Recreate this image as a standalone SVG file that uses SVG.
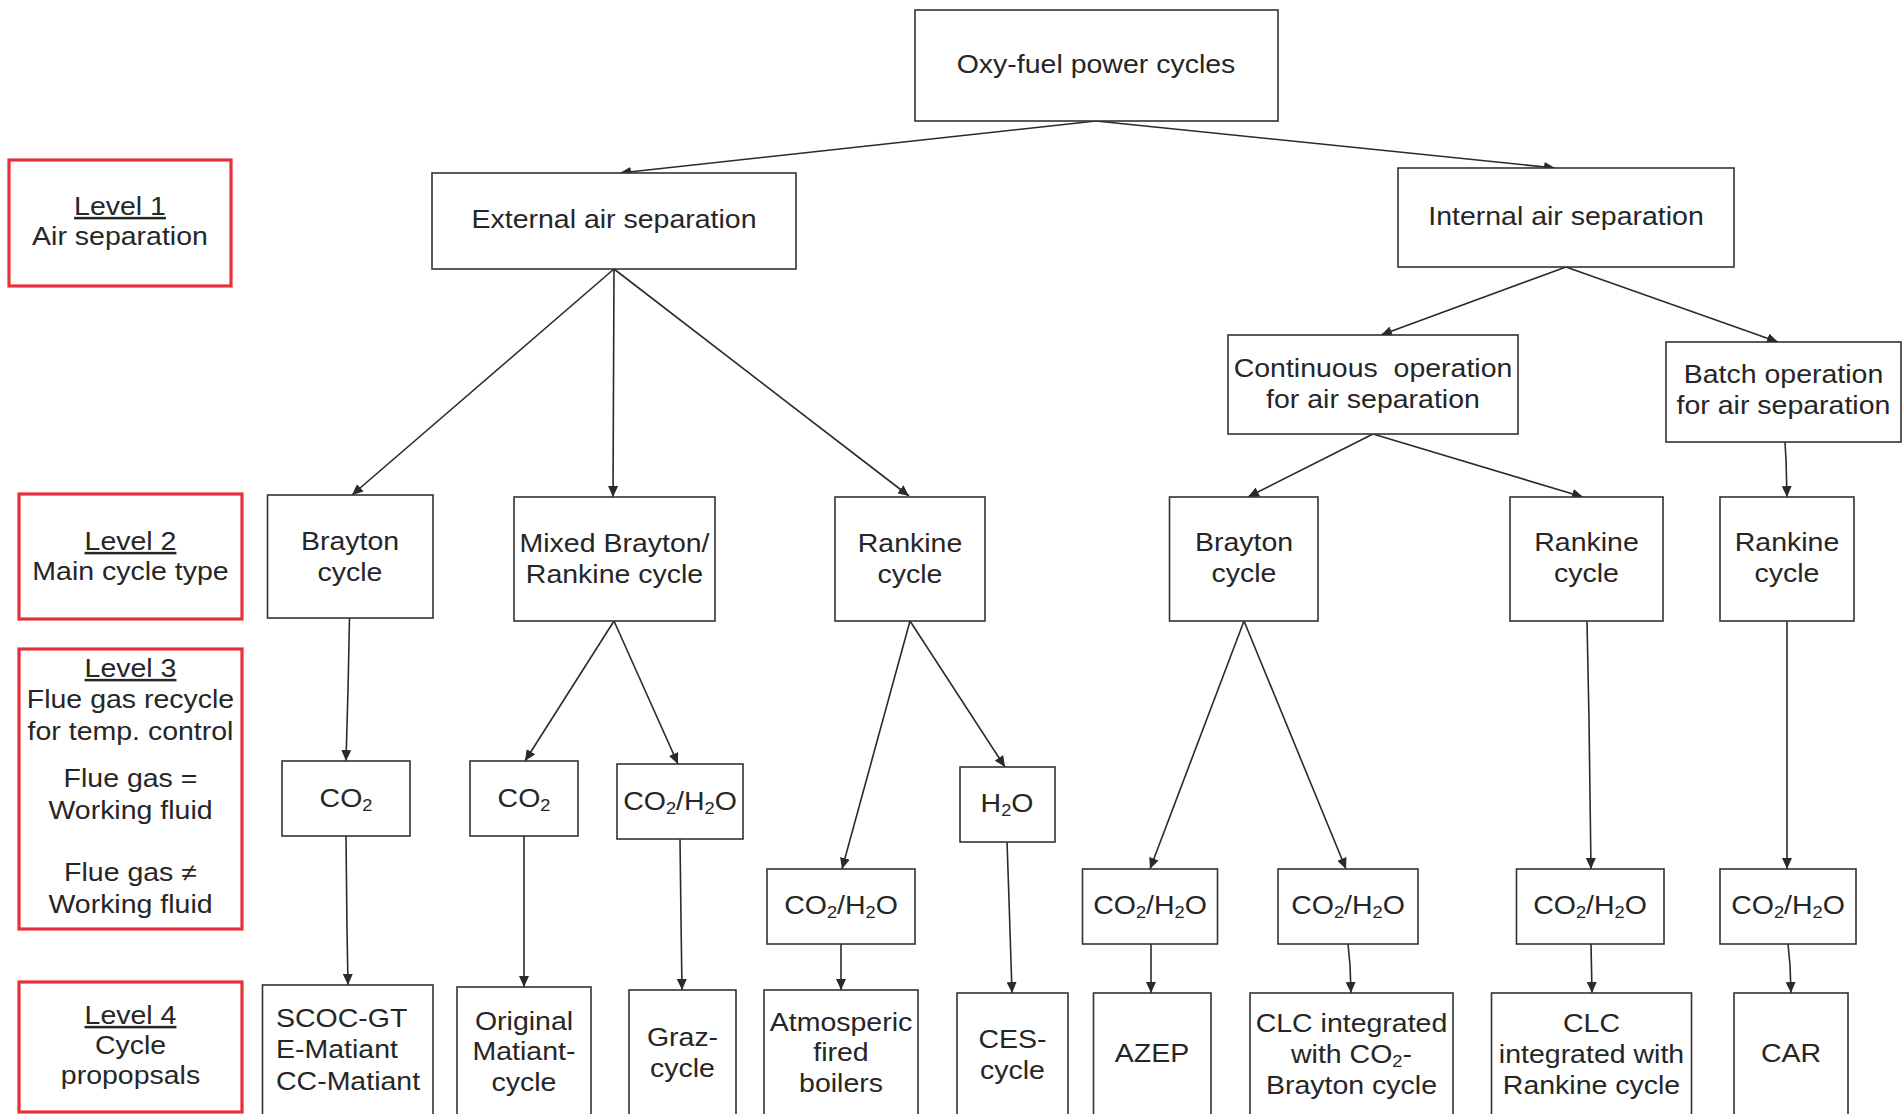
<svg xmlns="http://www.w3.org/2000/svg" width="1903" height="1114" viewBox="0 0 1903 1114">
<style>
.b{fill:#fff;stroke:#333;stroke-width:1.6}
.r{fill:#fff;stroke:#e8303a;stroke-width:3.2}
.t{font-family:"Liberation Sans",Arial,sans-serif;font-size:25px;fill:#262626;text-anchor:middle}
.l{text-anchor:start}
.u{text-decoration:underline}
.s{font-size:16px}
.c{fill:none;stroke:#2a2a2a;stroke-width:1.6;marker-end:url(#ah)}
</style>
<defs>
<marker id="ah" markerUnits="userSpaceOnUse" markerWidth="12" markerHeight="10" refX="11" refY="5" orient="auto">
<path d="M0,0 L11,5 L0,10 z" fill="#2a2a2a"/>
</marker>
</defs>
<rect width="1903" height="1114" fill="#fff"/>

<g id="connectors">
<line class="c" x1="1096" y1="121" x2="620" y2="173"/>
<line class="c" x1="1096" y1="121" x2="1555" y2="168"/>
<line class="c" x1="614" y1="269" x2="352" y2="495"/>
<line class="c" x1="614" y1="269" x2="613" y2="497"/>
<line class="c" x1="614" y1="269" x2="909" y2="496"/>
<line class="c" x1="1566" y1="267" x2="1381" y2="335"/>
<line class="c" x1="1566" y1="267" x2="1778" y2="342"/>
<line class="c" x1="1373" y1="434" x2="1248" y2="497"/>
<line class="c" x1="1373" y1="434" x2="1583" y2="497"/>
<polyline class="c" points="1785,442 1786,460 1787,497"/>
<polyline class="c" points="349.5,618 348,690 346,761"/>
<line class="c" x1="614" y1="621" x2="525" y2="761"/>
<line class="c" x1="614" y1="621" x2="678" y2="764"/>
<line class="c" x1="910" y1="621" x2="842" y2="869"/>
<line class="c" x1="910" y1="621" x2="1005" y2="767"/>
<line class="c" x1="1244" y1="621" x2="1150" y2="869"/>
<line class="c" x1="1244" y1="621" x2="1346" y2="869"/>
<polyline class="c" points="1587,621 1589,720 1591,869"/>
<line class="c" x1="1787" y1="621" x2="1787" y2="869"/>
<polyline class="c" points="346,836 347,930 348,985"/>
<line class="c" x1="524" y1="836" x2="524" y2="987"/>
<polyline class="c" points="680,839 681,920 682,990"/>
<line class="c" x1="841" y1="944" x2="841" y2="990"/>
<polyline class="c" points="1007,841 1009,900 1012,993"/>
<line class="c" x1="1151" y1="944" x2="1151" y2="993"/>
<polyline class="c" points="1348,944 1350,965 1351,993"/>
<line class="c" x1="1591" y1="944" x2="1592" y2="993"/>
<polyline class="c" points="1788,944 1790,965 1791,993"/>
</g>

<g id="level1">
<rect class="r" x="9" y="160" width="222" height="126"/>
<text class="t" transform="translate(120,215) scale(1.14,1)"><tspan class="u" x="0">Level 1</tspan><tspan x="0" dy="30">Air separation</tspan></text>
</g>
<g id="level2">
<rect class="r" x="19" y="494" width="223" height="125"/>
<text class="t" transform="translate(130.5,550) scale(1.14,1)"><tspan class="u" x="0">Level 2</tspan><tspan x="0" dy="30">Main cycle type</tspan></text>
</g>
<g id="level3">
<rect class="r" x="19" y="649" width="223" height="280"/>
<text class="t" transform="translate(130.5,677) scale(1.14,1)"><tspan class="u" x="0">Level 3</tspan><tspan x="0" dy="31.5">Flue gas recycle</tspan><tspan x="0" dy="32">for temp. control</tspan><tspan x="0" dy="47">Flue gas =</tspan><tspan x="0" dy="32">Working fluid</tspan><tspan x="0" dy="62">Flue gas ≠</tspan><tspan x="0" dy="31.5">Working fluid</tspan></text>
</g>
<g id="level4">
<rect class="r" x="19" y="982" width="223" height="130"/>
<text class="t" transform="translate(130.5,1024) scale(1.14,1)"><tspan class="u" x="0">Level 4</tspan><tspan x="0" dy="30">Cycle</tspan><tspan x="0" dy="30">propopsals</tspan></text>
</g>

<g id="oxyfuel">
<rect class="b" x="915" y="10" width="363" height="111"/>
<text class="t" transform="translate(1096,73) scale(1.14,1)">Oxy-fuel power cycles</text>
</g>
<g id="external">
<rect class="b" x="432" y="173" width="364" height="96"/>
<text class="t" transform="translate(614,228) scale(1.14,1)">External air separation</text>
</g>
<g id="internal">
<rect class="b" x="1398" y="168" width="336" height="99"/>
<text class="t" transform="translate(1566,225) scale(1.14,1)">Internal air separation</text>
</g>
<g id="continuous">
<rect class="b" x="1228" y="335" width="290" height="99"/>
<text class="t" xml:space="preserve" transform="translate(1373,377) scale(1.14,1)"><tspan x="0">Continuous  operation</tspan><tspan x="0" dy="31">for air separation</tspan></text>
</g>
<g id="batch">
<rect class="b" x="1666" y="342" width="235" height="100"/>
<text class="t" transform="translate(1783.5,383) scale(1.14,1)"><tspan x="0">Batch operation</tspan><tspan x="0" dy="31">for air separation</tspan></text>
</g>

<g id="brayton1">
<rect class="b" x="267.5" y="495" width="165.5" height="123"/>
<text class="t" transform="translate(350,550) scale(1.14,1)"><tspan x="0">Brayton</tspan><tspan x="0" dy="31">cycle</tspan></text>
</g>
<g id="mixed">
<rect class="b" x="514" y="497" width="201" height="124"/>
<text class="t" transform="translate(614.5,552) scale(1.14,1)"><tspan x="0">Mixed Brayton/</tspan><tspan x="0" dy="31">Rankine cycle</tspan></text>
</g>
<g id="rankine1">
<rect class="b" x="835" y="497" width="150" height="124"/>
<text class="t" transform="translate(910,552) scale(1.14,1)"><tspan x="0">Rankine</tspan><tspan x="0" dy="31">cycle</tspan></text>
</g>
<g id="brayton2">
<rect class="b" x="1169.5" y="497" width="148.5" height="124"/>
<text class="t" transform="translate(1244,551) scale(1.14,1)"><tspan x="0">Brayton</tspan><tspan x="0" dy="31">cycle</tspan></text>
</g>
<g id="rankine2">
<rect class="b" x="1510" y="497" width="153" height="124"/>
<text class="t" transform="translate(1586.5,551) scale(1.14,1)"><tspan x="0">Rankine</tspan><tspan x="0" dy="31">cycle</tspan></text>
</g>
<g id="rankine3">
<rect class="b" x="1720" y="497" width="134" height="124"/>
<text class="t" transform="translate(1787,551) scale(1.14,1)"><tspan x="0">Rankine</tspan><tspan x="0" dy="31">cycle</tspan></text>
</g>

<g id="co2a">
<rect class="b" x="282" y="761" width="128" height="75"/>
<text class="t" transform="translate(346,807) scale(1.14,1)">CO<tspan class="s" dy="4">2</tspan></text>
</g>
<g id="co2b">
<rect class="b" x="470" y="761" width="108" height="75"/>
<text class="t" transform="translate(524,807) scale(1.14,1)">CO<tspan class="s" dy="4">2</tspan></text>
</g>
<g id="co2h2o-mixed">
<rect class="b" x="617" y="764" width="126" height="75"/>
<text class="t" transform="translate(680,810) scale(1.14,1)">CO<tspan class="s" dy="4">2</tspan><tspan dy="-4">/H</tspan><tspan class="s" dy="4">2</tspan><tspan dy="-4">O</tspan></text>
</g>
<g id="h2o">
<rect class="b" x="960" y="767" width="95" height="75"/>
<text class="t" transform="translate(1007,812) scale(1.14,1)">H<tspan class="s" dy="4">2</tspan><tspan dy="-4">O</tspan></text>
</g>
<g id="co2h2o-rankine1">
<rect class="b" x="767" y="869" width="148" height="75"/>
<text class="t" transform="translate(841,914) scale(1.14,1)">CO<tspan class="s" dy="4">2</tspan><tspan dy="-4">/H</tspan><tspan class="s" dy="4">2</tspan><tspan dy="-4">O</tspan></text>
</g>
<g id="co2h2o-brayton-a">
<rect class="b" x="1082.5" y="869" width="135" height="75"/>
<text class="t" transform="translate(1150,914) scale(1.14,1)">CO<tspan class="s" dy="4">2</tspan><tspan dy="-4">/H</tspan><tspan class="s" dy="4">2</tspan><tspan dy="-4">O</tspan></text>
</g>
<g id="co2h2o-brayton-b">
<rect class="b" x="1278" y="869" width="140" height="75"/>
<text class="t" transform="translate(1348,914) scale(1.14,1)">CO<tspan class="s" dy="4">2</tspan><tspan dy="-4">/H</tspan><tspan class="s" dy="4">2</tspan><tspan dy="-4">O</tspan></text>
</g>
<g id="co2h2o-rankine2">
<rect class="b" x="1516.5" y="869" width="147.5" height="75"/>
<text class="t" transform="translate(1590,914) scale(1.14,1)">CO<tspan class="s" dy="4">2</tspan><tspan dy="-4">/H</tspan><tspan class="s" dy="4">2</tspan><tspan dy="-4">O</tspan></text>
</g>
<g id="co2h2o-rankine3">
<rect class="b" x="1720" y="869" width="136" height="75"/>
<text class="t" transform="translate(1788,914) scale(1.14,1)">CO<tspan class="s" dy="4">2</tspan><tspan dy="-4">/H</tspan><tspan class="s" dy="4">2</tspan><tspan dy="-4">O</tspan></text>
</g>

<g id="scoc">
<rect class="b" x="262.5" y="985" width="170.5" height="140"/>
<text class="t l" transform="translate(276,1027) scale(1.14,1)"><tspan x="0">SCOC-GT</tspan><tspan x="0" dy="31.5">E-Matiant</tspan><tspan x="0" dy="32">CC-Matiant</tspan></text>
</g>
<g id="original-matiant">
<rect class="b" x="457" y="987" width="134" height="140"/>
<text class="t" transform="translate(524,1030) scale(1.14,1)"><tspan x="0">Original</tspan><tspan x="0" dy="30.5">Matiant-</tspan><tspan x="0" dy="31">cycle</tspan></text>
</g>
<g id="graz">
<rect class="b" x="629" y="990" width="107" height="140"/>
<text class="t" transform="translate(682.5,1046) scale(1.14,1)"><tspan x="0">Graz-</tspan><tspan x="0" dy="31.5">cycle</tspan></text>
</g>
<g id="atmospheric">
<rect class="b" x="764" y="990" width="154" height="140"/>
<text class="t" transform="translate(841,1031) scale(1.14,1)"><tspan x="0">Atmosperic</tspan><tspan x="0" dy="30.5">fired</tspan><tspan x="0" dy="31">boilers</tspan></text>
</g>
<g id="ces">
<rect class="b" x="957" y="993" width="111" height="140"/>
<text class="t" transform="translate(1012.5,1048) scale(1.14,1)"><tspan x="0">CES-</tspan><tspan x="0" dy="31">cycle</tspan></text>
</g>
<g id="azep">
<rect class="b" x="1093.5" y="993" width="117.5" height="140"/>
<text class="t" transform="translate(1152,1062) scale(1.14,1)">AZEP</text>
</g>
<g id="clc-brayton">
<rect class="b" x="1250" y="993" width="203" height="140"/>
<text class="t" transform="translate(1351.5,1032) scale(1.14,1)"><tspan x="0">CLC integrated</tspan><tspan x="0" dy="31">with CO</tspan><tspan class="s" dy="4">2</tspan><tspan dy="-4">-</tspan><tspan x="0" dy="31.5">Brayton cycle</tspan></text>
</g>
<g id="clc-rankine">
<rect class="b" x="1491.5" y="993" width="200" height="140"/>
<text class="t" transform="translate(1591.5,1032) scale(1.14,1)"><tspan x="0">CLC</tspan><tspan x="0" dy="31">integrated with</tspan><tspan x="0" dy="31.5">Rankine cycle</tspan></text>
</g>
<g id="car">
<rect class="b" x="1734" y="993" width="114" height="140"/>
<text class="t" transform="translate(1791,1062) scale(1.14,1)">CAR</text>
</g>
</svg>
